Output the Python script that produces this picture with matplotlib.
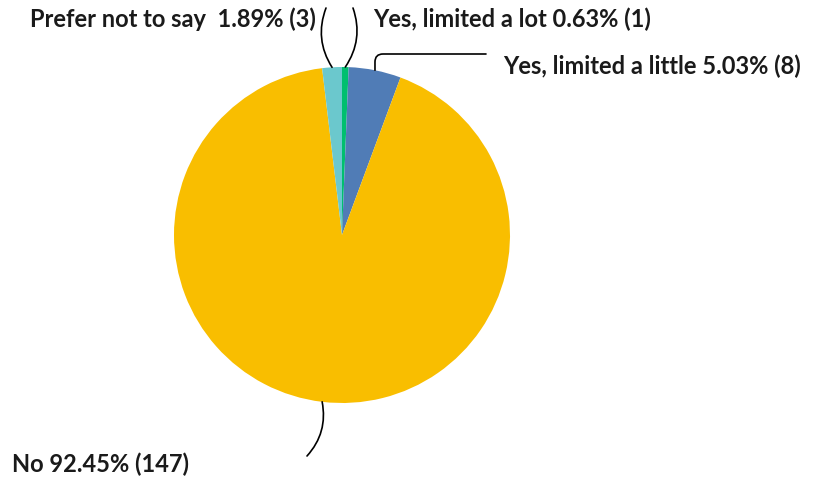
import numpy as np
import matplotlib.pyplot as plt

labels = ["Yes, limited a lot", "Yes, limited a little", "No", "Prefer not to say"]
percents = [0.63, 5.03, 92.45, 1.89]
counts = [1, 8, 147, 3]
colors = ["#00BF6F", "#507CB6", "#F9BE00", "#6BC8CD"]

W, H = 823, 478
fig = plt.figure(figsize=(W / 100, H / 100), dpi=100)
ax = fig.add_axes([0, 0, 1, 1])


def P(x, y):
    # pixel coords (y from top) -> data coords
    return (x, H - y)


cx, cy = P(342, 235)
r = 168
wedges, _ = ax.pie(percents, colors=colors, startangle=90, counterclock=False,
                   center=(cx, cy), radius=r, frame=True,
                   wedgeprops=dict(linewidth=0))
ax.set_xlim(0, W)
ax.set_ylim(0, H)
ax.set_aspect("equal")
ax.axis("off")


def edge(w):
    a = np.deg2rad((w.theta1 + w.theta2) / 2)
    return (cx + r * np.cos(a), cy + r * np.sin(a))


font = dict(family=["Lato", "DejaVu Sans"], fontweight="bold", fontsize=17, color="#1a1a1a")
texts = [f"{l} {p:.2f}% ({c})" for l, p, c in zip(labels, percents, counts)]
texts[3] = f"{labels[3]}  {percents[3]:.2f}% ({counts[3]})"

ax.text(*P(373, 19), texts[0], ha="left", va="center", **font)
ax.text(*P(503, 66), texts[1], ha="left", va="center", **font)
ax.text(*P(12, 464), texts[2], ha="left", va="center", **font)
ax.text(*P(316, 19), texts[3], ha="right", va="center", **font)

line = dict(arrowstyle="-", color="black", lw=1.2, shrinkA=0, shrinkB=0)
ax.annotate("", xy=edge(wedges[0]), xytext=P(353, 8),
            arrowprops=dict(connectionstyle="arc3,rad=-0.25", **line))
ax.annotate("", xy=edge(wedges[1]), xytext=P(486, 54),
            arrowprops=dict(connectionstyle="angle,angleA=0,angleB=90,rad=8", **line))
ax.annotate("", xy=edge(wedges[2]), xytext=P(307, 456),
            arrowprops=dict(connectionstyle="arc3,rad=0.25", **line))
ax.annotate("", xy=edge(wedges[3]), xytext=P(326, 8),
            arrowprops=dict(connectionstyle="arc3,rad=0.25", **line))

fig.savefig("out.png", dpi=100)
